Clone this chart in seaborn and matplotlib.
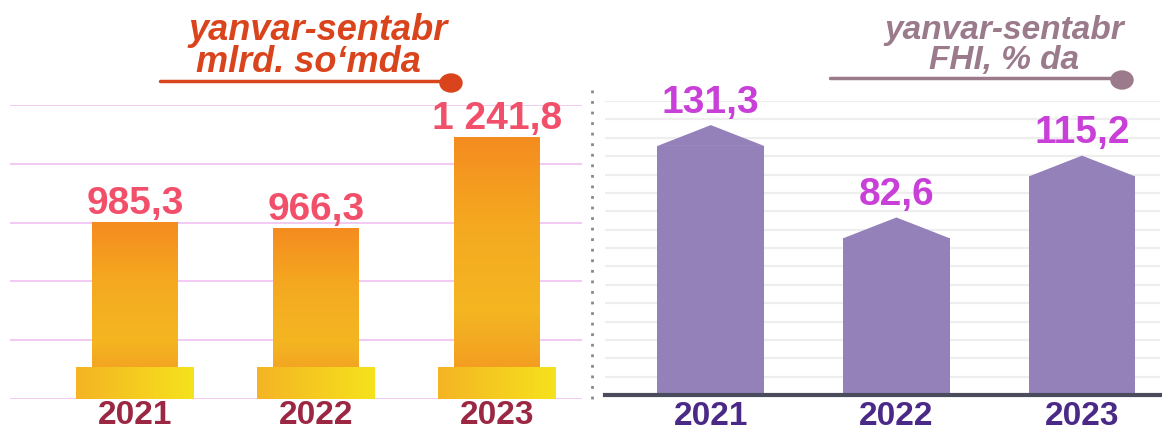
import numpy as np
import pandas as pd
import seaborn as sns
import matplotlib.pyplot as plt
from matplotlib.colors import LinearSegmentedColormap
from matplotlib.patches import Polygon, Ellipse
from matplotlib.lines import Line2D

# ============ DATA ============
years = ["2021", "2022", "2023"]
sum_vals = [985.3, 966.3, 1241.8]          # mlrd. so'm
sum_labels = ["985,3", "966,3", "1 241,8"]
pct_vals = [131.3, 82.6, 115.2]            # FHI, %
pct_labels = ["131,3", "82,6", "115,2"]

sns.set_theme(style="white")
plt.rcParams['font.family'] = ['Liberation Sans', 'DejaVu Sans']

W, H = 1162, 430
fig = plt.figure(figsize=(W / 100, H / 100), dpi=100)
ax1 = fig.add_axes([10 / W, 31 / H, 572 / W, 294 / H])
ax2 = fig.add_axes([605 / W, 35 / H, 555 / W, 294 / H])

# ============ LEFT: mlrd. so'm ============
df1 = pd.DataFrame({"year": years, "value": sum_vals})
sns.barplot(data=df1, x="year", y="value", ax=ax1, width=0.475,
            color="#f4a020", saturation=1, zorder=3)
ymin, ymax = 450, 1341
xlim1 = (-0.69, 2.47)

for g in np.linspace(ymin, ymax, 6):
    ax1.axhline(g, color="#f0c6f2", lw=1.3, zorder=1)

bar_cmap = LinearSegmentedColormap.from_list(
    "bar", ["#f39021", "#f4b622", "#f5a920", "#f48c1f"])
base_cmap = LinearSegmentedColormap.from_list("base", ["#f4b424", "#f6e21c"])
vgrad = np.linspace(0, 1, 256).reshape(-1, 1)
hgrad = np.linspace(0, 1, 256).reshape(1, -1)

for p in ax1.patches:
    x0, w = p.get_x(), p.get_width()
    top = p.get_y() + p.get_height()
    p.set_visible(False)
    ax1.imshow(vgrad, extent=[x0, x0 + w, ymin, top], aspect="auto",
               cmap=bar_cmap, origin="lower", zorder=3)

base_w = 0.65
base_h = 31 / 294 * (ymax - ymin)
for i in range(len(years)):
    ax1.imshow(hgrad, extent=[i - base_w / 2, i + base_w / 2, ymin, ymin + base_h],
               aspect="auto", cmap=base_cmap, origin="lower", zorder=4)

for i, (v, lab) in enumerate(zip(sum_vals, sum_labels)):
    ax1.annotate(lab, (i, v), xytext=(0, 6), textcoords="offset points",
                 ha="center", va="baseline", fontsize=28, fontweight="bold",
                 color="#f2506a", zorder=5)

ax1.set_ylim(ymin, ymax)
ax1.set_xlim(*xlim1)
ax1.set_xticks(range(len(years)))
ax1.set_xticklabels(years, fontsize=24, fontweight="bold", color="#9b2743")
ax1.tick_params(axis="x", length=0, pad=1)
ax1.set_yticks([])
ax1.set_xlabel("")
ax1.set_ylabel("")
sns.despine(ax=ax1, left=True, bottom=True)

# ============ RIGHT: FHI % ============
df2 = pd.DataFrame({"year": years, "value": pct_vals})
sns.barplot(data=df2, x="year", y="value", ax=ax2, width=0.575,
            color="#9581ba", saturation=1, zorder=3, linewidth=0)
ax2.set_ylim(0, 155)
ax2.set_xlim(-0.57, 2.42)

for g in np.linspace(0, 155, 17)[1:]:
    ax2.axhline(g, color="#eeeeee", lw=1.6, zorder=1)

peak = 11
for p in ax2.patches:
    x0, w = p.get_x(), p.get_width()
    top = p.get_y() + p.get_height()
    ax2.add_patch(Polygon([(x0, top), (x0 + w / 2, top + peak), (x0 + w, top)],
                          closed=True, facecolor="#9581ba", lw=0, zorder=3))

for i, (v, lab) in enumerate(zip(pct_vals, pct_labels)):
    ax2.annotate(lab, (i, v + peak), xytext=(0, 9), textcoords="offset points",
                 ha="center", va="baseline", fontsize=28, fontweight="bold",
                 color="#c840d8", zorder=5)

ax2.set_xticks(range(len(years)))
ax2.set_xticklabels(years, fontsize=24, fontweight="bold", color="#4b2a87")
ax2.tick_params(axis="x", length=0, pad=4)
ax2.set_yticks([])
ax2.set_xlabel("")
ax2.set_ylabel("")
sns.despine(ax=ax2, left=True)
ax2.spines["bottom"].set_color("#4a4c5e")
ax2.spines["bottom"].set_linewidth(3)
ax2.spines["bottom"].set_zorder(6)

# ============ TITLES / DECORATION ============
c1 = "#d9441c"
fig.text(318 / W, 1 - 30 / H, "yanvar-sentabr", ha="center", va="center",
         fontsize=26, fontweight="bold", style="italic", color=c1)
fig.text(308 / W, 1 - 62 / H, "mlrd. so‘mda", ha="center", va="center",
         fontsize=26, fontweight="bold", style="italic", color=c1)
fig.add_artist(Line2D([160 / W, 445 / W], [1 - 81 / H] * 2, color=c1, lw=2.5))
fig.add_artist(Ellipse((451 / W, 1 - 83 / H), 22 / W, 18 / H,
                       transform=fig.transFigure, color=c1))

c2 = "#9a7a8b"
fig.text(1004 / W, 1 - 30 / H, "yanvar-sentabr", ha="center", va="center",
         fontsize=24, fontweight="bold", style="italic", color=c2)
fig.text(1004 / W, 1 - 60 / H, "FHI, % da", ha="center", va="center",
         fontsize=24, fontweight="bold", style="italic", color=c2)
fig.add_artist(Line2D([830 / W, 1115 / W], [1 - 78 / H] * 2, color=c2, lw=2.5))
fig.add_artist(Ellipse((1122 / W, 1 - 80 / H), 22 / W, 18 / H,
                       transform=fig.transFigure, color=c2))

fig.add_artist(Line2D([592 / W] * 2, [1 - 90 / H, 1 - 402 / H], color="#888888",
                      lw=2, ls=(0, (1, 2.8)), dash_capstyle="butt"))

fig.savefig("out.png", dpi=100)
